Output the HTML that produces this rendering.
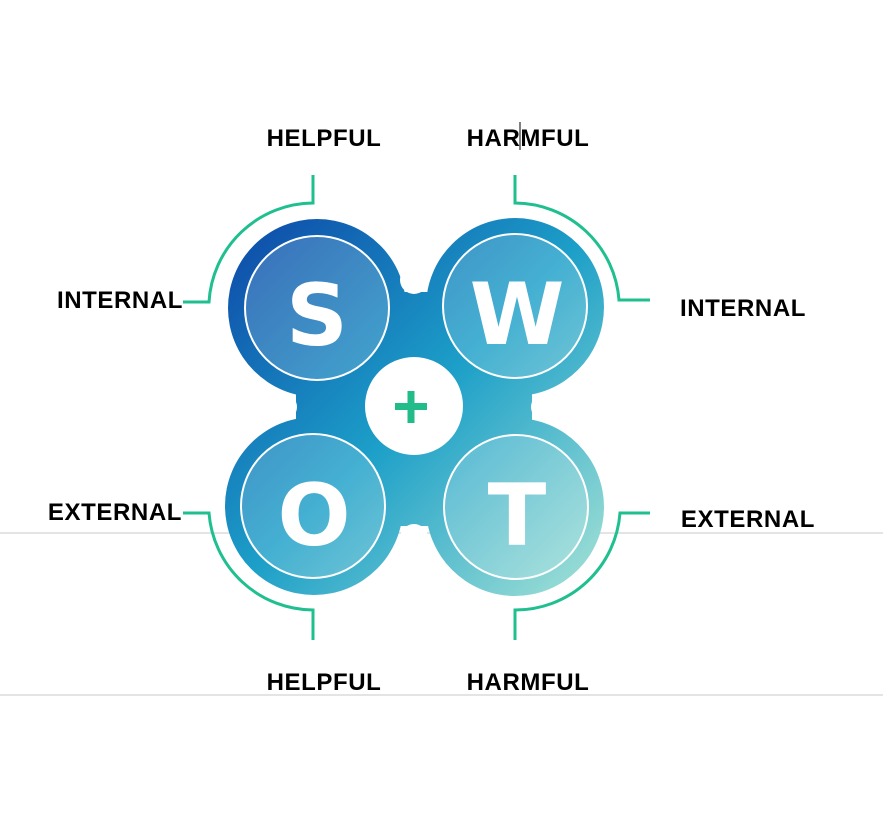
<!DOCTYPE html>
<html><head><style>
body{margin:0;background:#fff;}
svg text{font-family:"Liberation Sans",sans-serif;font-weight:bold;}
svg text.big{font-family:"DejaVu Sans",sans-serif;}
</style></head><body>
<svg width="883" height="828" viewBox="0 0 883 828" xmlns="http://www.w3.org/2000/svg">
<defs>
<linearGradient id="bg" gradientUnits="userSpaceOnUse" x1="228" y1="220" x2="603" y2="595">
<stop offset="0" stop-color="#0d47a8"/>
<stop offset="0.5" stop-color="#1c9fc8"/>
<stop offset="1" stop-color="#a6e3d6"/>
</linearGradient>
</defs>
<line x1="0" y1="533" x2="883" y2="533" stroke="#c8c8c8" stroke-width="1"/>
<line x1="0" y1="695" x2="883" y2="695" stroke="#c8c8c8" stroke-width="1"/>
<g fill="url(#bg)">
<circle cx="317" cy="308" r="89"/>
<circle cx="515" cy="307" r="89"/>
<circle cx="314" cy="506" r="89"/>
<circle cx="515" cy="507" r="89"/>
<rect x="296" y="292" width="236" height="234"/>
</g>
<g fill="#fff">
<circle cx="283" cy="407" r="14"/>
<circle cx="545" cy="407" r="14"/>
<circle cx="414" cy="280" r="14"/>
<circle cx="414" cy="538" r="14"/>
</g>
<g fill="#ffffff" fill-opacity="0.18" stroke="#fff" stroke-width="2">
<circle cx="317" cy="308" r="72"/>
<circle cx="515" cy="306" r="72"/>
<circle cx="313" cy="506" r="72"/>
<circle cx="516" cy="507" r="72"/>
</g>
<circle cx="414" cy="406" r="49" fill="#fff"/>
<g fill="#22bb8a"><rect x="395" y="403" width="32" height="7"/><rect x="407.5" y="391" width="7" height="32"/></g>
<g fill="#fff" font-size="86" text-anchor="middle">
<text class="big" x="317" y="345">S</text>
<text class="big" x="517" y="344">W</text>
<text class="big" x="314" y="545">O</text>
<text class="big" x="517" y="545">T</text>
</g>
<g fill="none" stroke="#1fbf8f" stroke-width="3">
<path d="M313 175 V203 A105 105 0 0 0 209 302 H183"/>
<path d="M515 175 V203 A105 105 0 0 1 619 300 H650"/>
<path d="M183 513 H209 A105 105 0 0 0 313 610 V640"/>
<path d="M650 513 H620 A105 105 0 0 1 515 610 V640"/>
</g>
<g fill="#000" font-size="24" text-anchor="middle" letter-spacing="0.6">
<text x="324" y="146">HELPFUL</text>
<text x="528" y="146">HARMFUL</text>
<text x="324" y="690">HELPFUL</text>
<text x="528" y="690">HARMFUL</text>
<text x="120" y="308">INTERNAL</text>
<text x="743" y="316">INTERNAL</text>
<text x="115" y="520">EXTERNAL</text>
<text x="748" y="527">EXTERNAL</text>
</g>
<line x1="520" y1="122" x2="520" y2="150" stroke="#000" stroke-width="1"/>
</svg>
</body></html>
